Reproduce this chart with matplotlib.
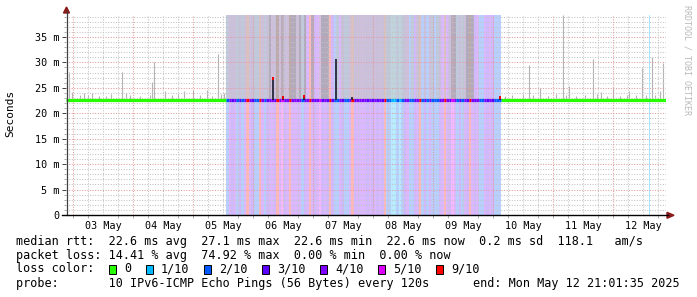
"""SmokePing style latency graph: 10 days of IPv6 pings with loss background."""

import matplotlib
matplotlib.use('Agg')
import matplotlib.pyplot as plt
import matplotlib.dates as mdates
from matplotlib.patches import Rectangle, Polygon
from matplotlib.lines import Line2D
import pandas as pd

plt.rcParams['font.family'] = ['DejaVu Sans Mono', 'DejaVu Sans']

W, H = 697, 297
START = pd.Timestamp('2025-05-02 21:01:35')
END = pd.Timestamp('2025-05-12 21:01:35')
DAY0 = pd.Timestamp('2025-05-03 00:00')
YMAX = 39.32

MEDIAN_RTT = 22.6

# hourly loss bins (tenths of pings lost) during the outage period
LOSS_START = pd.Timestamp('2025-05-05 13:12')
loss_tenths = [2, 4, 3, 4, 2, 3, 2, 4, 9, 4, 3, 2, 2, 9, 4, 2, 3, 4, 4, 3,
               9, 4, 5, 3, 4, 9, 4,
               4, 4, 4, 2, 3, 4, 9, 4, 3, 4, 5, 3, 4, 3, 9, 3, 2, 2, 4, 3,
               2, 2, 4, 9, 3, 4, 4, 4,
               4, 3, 4, 3, 4, 3, 4, 3, 9, 2, 2, 1, 1, 2, 1, 2, 3, 4, 2, 2,
               3, 4, 9, 2, 3, 2, 4,
               2, 2, 2, 3, 4, 9, 4, 3, 5, 4, 2, 3, 2, 4, 3, 9, 4, 3, 4, 2,
               2, 4, 3, 4, 3, 2, 2, 2]
# smoke density above the median in those bins (0 none, 1 light, 2 dense)
smoke_level = [1, 1, 1, 1, 1, 1, 1, 1, 1, 1, 1, 1, 1, 1, 1, 1, 1,
               2, 1, 1, 2, 1, 2, 1, 1, 2, 2, 2, 1, 2, 1, 2,
               0, 0, 2, 0, 0, 1, 2, 2, 2, 0, 0, 0, 1, 0,
               1, 1, 1, 1, 1, 1, 1, 1, 1, 1, 1, 1, 1, 1, 1, 1, 1, 1, 1, 1,
               1, 1, 1, 1, 1, 1, 1,
               0, 1, 0, 1, 1, 0, 1, 0, 1,
               1, 0, 1, 1, 0, 1, 0, 1,
               2, 2, 1, 1, 1, 1, 2, 2, 2,
               0, 0, 0, 0, 0, 0, 0, 0, 0, 0, 0]

# isolated loss sample near the end
late_loss_time = ['2025-05-12 14:24']
late_loss_tenths = [1]

# smoke spikes outside the loss period: hours after 03 May 00:00, max rtt (ms)
spike_hours = [-1.6, -0.4, 2.8, 4.4, 6.0, 7.6, 10.4, 13.2, 15.2, 19.6, 21.2,
               22.8, 26.8, 30.8, 31.6, 32.4, 36.8, 39.6, 42.0, 44.4, 48.0,
               50.8, 53.6, 55.6, 58.0, 59.2, 60.4,
               172.8, 175.6, 180.0, 182.4, 184.0, 186.8, 190.0, 193.2, 196.0,
               197.2, 198.4, 201.2, 204.8, 208.0, 209.6, 211.2, 213.6, 216.0,
               218.8, 221.6, 222.4, 225.2, 227.6, 229.2, 231.6, 232.8, 234.8,
               236.0]
spike_ms = [28.1, 24.2, 23.6, 23.9, 23.5, 23.9, 23.3, 23.4, 23.8, 28.1, 24.0,
            23.5, 23.3, 23.5, 26.1, 30.1, 24.4, 23.5, 23.8, 24.4, 24.6,
            23.6, 24.6, 23.3, 31.6, 23.7, 24.0,
            23.4, 23.5, 23.8, 29.5, 23.6, 24.9, 23.4, 23.8, 40.0,
            23.6, 25.3, 23.4, 23.5, 30.7, 23.8, 24.2, 23.4, 24.9,
            23.3, 23.5, 24.4, 23.6, 28.9, 23.5, 31.1, 23.6, 24.3,
            29.9]

# dark median jumps inside the loss period
jump_hours = [80.0, 84.0, 92.4, 105.2, 111.6, 170.8]
jump_ms = [27.1, 23.3, 23.6, 30.7, 23.2, 23.4]
jump_red_tip = [True, True, True, False, False, True]

LOSS_COLORS = {0: '#26ff00', 1: '#00b8ff', 2: '#0059ff', 3: '#5e00ff',
               4: '#7e00ff', 5: '#dd00ff', 9: '#ff0000'}
legend_labels = ['0', '1/10', '2/10', '3/10', '4/10', '5/10', '9/10']
legend_keys = [0, 1, 2, 3, 4, 5, 9]

stats_lines = [
    'median rtt:  22.6 ms avg  27.1 ms max  22.6 ms min  22.6 ms now  0.2 ms sd  118.1   am/s',
    'packet loss: 14.41 % avg  74.92 % max  0.00 % min  0.00 % now',
]
probe_text = 'probe:       10 IPv6-ICMP Echo Pings (56 Bytes) every 120s'
end_text = 'end: Mon May 12 21:01:35 2025'


def px(x, y):
    return (x / W, 1 - y / H)


def num(t):
    return mdates.date2num(pd.Timestamp(t).to_pydatetime())


def hours_to_num(h):
    return num(DAY0 + pd.Timedelta(hours=h))


fig = plt.figure(figsize=(W / 100, H / 100), dpi=100, facecolor='white')
ax = fig.add_axes([65.6 / W, 82 / H, 600 / W, 200 / H])
ax.set_xlim(num(START), num(END))
ax.set_ylim(0, YMAX)
for s in ax.spines.values():
    s.set_visible(False)

hour = 1 / 24.0
x0 = num(LOSS_START)
bins_x = [x0 + i * hour for i in range(len(loss_tenths))]

# loss background
ax.bar(bins_x, [YMAX] * len(bins_x), width=hour, align='edge',
       color=[LOSS_COLORS[v] for v in loss_tenths], alpha=0.28,
       linewidth=0, zorder=1)
ax.bar([num(t) for t in late_loss_time], [YMAX] * len(late_loss_time),
       width=hour * 0.4, align='edge',
       color=[LOSS_COLORS[v] for v in late_loss_tenths], alpha=0.35,
       linewidth=0, zorder=1)

# smoke above the median in loss period
smoke_col = {1: ('#c6c6c6', 0.6), 2: ('#a6a6a6', 0.75)}
for bx, lvl in zip(bins_x, smoke_level):
    if lvl:
        c, a = smoke_col[lvl]
        ax.bar(bx, YMAX - MEDIAN_RTT, bottom=MEDIAN_RTT, width=hour,
               align='edge', color=c, alpha=a, linewidth=0, zorder=2)

# smoke spikes outside loss period
ax.vlines([hours_to_num(h) for h in spike_hours], MEDIAN_RTT,
          [min(v, YMAX) for v in spike_ms], color='#b4b4b4',
          linewidth=0.8, zorder=2)

# grid (drawn on top, dotted like rrdtool)
for v in range(1, int(YMAX) + 1):
    major = v % 5 == 0
    ax.axhline(v, color='#e39a9a' if major else '#c4c4c4',
               linestyle=(0, (1, 1.5)), linewidth=0.75, zorder=3)
for t in pd.date_range(START.ceil('6h'), END, freq='6h'):
    major = t.hour == 0
    ax.axvline(num(t), color='#e39a9a' if major else '#c4c4c4',
               linestyle=(0, (1, 1.5)), linewidth=0.75, zorder=3)

# median line, green outside the loss period, loss colored inside
lw = 2.3
loss_end = bins_x[-1] + hour
ax.hlines(MEDIAN_RTT, num(START), x0, color=LOSS_COLORS[0], linewidth=lw,
          zorder=5)
ax.hlines(MEDIAN_RTT, loss_end, num(END), color=LOSS_COLORS[0], linewidth=lw,
          zorder=5)
ax.hlines([MEDIAN_RTT] * len(bins_x), bins_x, [b + hour for b in bins_x],
          colors=[LOSS_COLORS[v] for v in loss_tenths], linewidth=lw,
          zorder=5)

jx = [hours_to_num(h) for h in jump_hours]
ax.vlines(jx, MEDIAN_RTT, jump_ms, color='#26263a', linewidth=1.3, zorder=6)
for x, top, red in zip(jx, jump_ms, jump_red_tip):
    if red:
        ax.vlines(x, top - 0.5, top, color='#ff0000', linewidth=1.3, zorder=7)

# ticks
ax.set_yticks(range(0, 40, 5))
ax.set_yticklabels(['0'] + [f'{v} m' for v in range(5, 40, 5)])
ax.set_yticks(range(0, 40), minor=True)
ax.xaxis.set_major_locator(mdates.HourLocator(byhour=[12]))
ax.xaxis.set_major_formatter(mdates.DateFormatter('%d %b'))
ax.xaxis.set_minor_locator(mdates.HourLocator(byhour=[0, 6, 18]))
ax.tick_params(axis='y', which='major', length=3.2, width=0.7,
               color='#404040', pad=1.5, labelsize=7.3)
ax.tick_params(axis='y', which='minor', length=1.5, width=0.6, color='#a0a0a0')
ax.tick_params(axis='x', which='major', length=0, pad=4.5, labelsize=7.3)
ax.tick_params(axis='x', which='minor', length=2, width=0.6, color='#a0a0a0')

# axes lines with arrows
fig.add_artist(Line2D([px(66.5, 0)[0]] * 2, [px(0, 215)[1], px(0, 11)[1]],
                      color='#404040', linewidth=0.9))
fig.add_artist(Line2D([px(62, 0)[0], px(668, 0)[0]], [px(0, 215.3)[1]] * 2,
                      color='#000000', linewidth=1.0))
fig.add_artist(Polygon([px(66.5, 7), px(63.5, 13), px(69.5, 13)],
                       closed=True, color='#8b1a1a'))
fig.add_artist(Polygon([px(674, 215.3), px(667, 212.3), px(667, 218.3)],
                       closed=True, color='#8b1a1a'))

# labels
fig.text(*px(10, 113), 'Seconds', rotation=90, ha='center', va='center',
         fontsize=8)
fig.text(*px(687, 60), 'RRDTOOL / TOBI OETIKER', rotation=270, ha='center',
         va='center', fontsize=6, color='#b8b8b8')

FS = 8.5
fig.text(*px(16, 241), stats_lines[0], ha='left', va='center', fontsize=FS)
fig.text(*px(16, 255), stats_lines[1], ha='left', va='center', fontsize=FS)
fig.text(*px(16, 269), 'loss color:', ha='left', va='center', fontsize=FS)
bx = 109
for key, lab in zip(legend_keys, legend_labels):
    x, y = px(bx, 274)
    fig.add_artist(Rectangle((x, y), 7 / W, 9 / H, facecolor=LOSS_COLORS[key],
                             edgecolor='black', linewidth=0.7))
    fig.text(*px(bx + 15, 269), lab, ha='left', va='center', fontsize=FS)
    bx = bx + 15 + len(lab) * 7 + 15
fig.text(*px(16, 283), probe_text, ha='left', va='center', fontsize=FS)
fig.text(*px(680, 283), end_text, ha='right', va='center', fontsize=FS)

fig.savefig('out.png', dpi=100, facecolor='white')
